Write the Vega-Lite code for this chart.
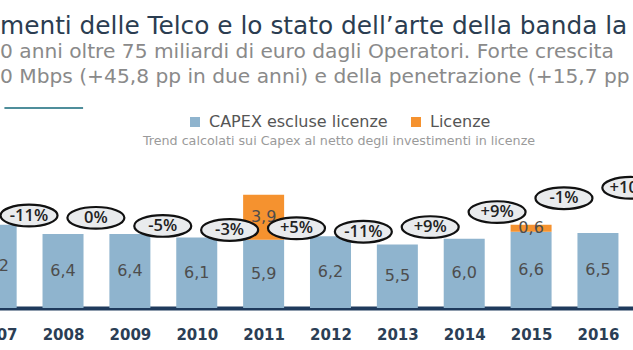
{
  "$schema": "https://vega.github.io/schema/vega-lite/v6.json",
  "width": 673,
  "height": 213,
  "autosize": {"type": "none"},
  "padding": {"left": -40, "top": 95, "right": 0, "bottom": 42},
  "background": "white",
  "config": {
    "view": {"stroke": null},
    "font": "DejaVu Sans",
    "locale": {"number": {"decimal": ",", "thousands": ".", "grouping": [3], "currency": ["", " €"]}}
  },
  "title": {
    "text": "menti delle Telco e lo stato dell’arte della banda la",
    "subtitle": ["0 anni oltre 75 miliardi di euro dagli Operatori. Forte crescita", "0 Mbps (+45,8 pp in due anni) e della penetrazione (+15,7 pp"],
    "anchor": "start",
    "frame": "group",
    "dx": 40,
    "offset": 8,
    "font": "DejaVu Sans",
    "fontSize": 24.8,
    "fontWeight": "normal",
    "color": "#2b3d51",
    "subtitleFont": "DejaVu Sans",
    "subtitleFontSize": 20.2,
    "subtitleColor": "#8a8a8a",
    "subtitleLineHeight": 25,
    "subtitlePadding": 3
  },
  "datasets": {
    "capex": [
      {"year": 2007, "series": "CAPEX escluse licenze", "value": 7.2},
      {"year": 2008, "series": "CAPEX escluse licenze", "value": 6.4},
      {"year": 2009, "series": "CAPEX escluse licenze", "value": 6.4},
      {"year": 2010, "series": "CAPEX escluse licenze", "value": 6.1},
      {"year": 2011, "series": "CAPEX escluse licenze", "value": 5.9},
      {"year": 2011, "series": "Licenze", "value": 3.9},
      {"year": 2012, "series": "CAPEX escluse licenze", "value": 6.2},
      {"year": 2013, "series": "CAPEX escluse licenze", "value": 5.5},
      {"year": 2014, "series": "CAPEX escluse licenze", "value": 6.0},
      {"year": 2015, "series": "CAPEX escluse licenze", "value": 6.6},
      {"year": 2015, "series": "Licenze", "value": 0.6},
      {"year": 2016, "series": "CAPEX escluse licenze", "value": 6.5}
    ],
    "trend": [
      {"year": 2008, "change": "-11%", "level": 8.0},
      {"year": 2009, "change": "0%", "level": 7.8},
      {"year": 2010, "change": "-5%", "level": 7.1},
      {"year": 2011, "change": "-3%", "level": 6.75},
      {"year": 2012, "change": "+5%", "level": 6.9},
      {"year": 2013, "change": "-11%", "level": 6.6},
      {"year": 2014, "change": "+9%", "level": 7.0},
      {"year": 2015, "change": "+9%", "level": 8.3},
      {"year": 2016, "change": "-1%", "level": 9.5},
      {"year": 2017, "change": "+10%", "level": 10.4}
    ]
  },
  "layer": [
    {
      "data": {"name": "capex"},
      "mark": {"type": "bar", "size": 41},
      "encoding": {
        "x": {
          "field": "year",
          "type": "quantitative",
          "scale": {"domain": [2006.534, 2016.4494], "nice": false, "zero": false},
          "axis": {
            "values": [2007, 2007.5, 2008, 2008.5, 2009, 2009.5, 2010, 2010.5, 2011, 2011.5, 2012, 2012.5, 2013, 2013.5, 2014, 2014.5, 2015, 2015.5, 2016, 2016.5],
            "format": "d",
            "labelExpr": "datum.value % 1 == 0 ? datum.label : ''",
            "title": null,
            "grid": false,
            "labelFlush": false,
            "labelOverlap": false,
            "labelFont": "DejaVu Sans",
            "labelFontSize": 15,
            "labelFontWeight": "bold",
            "labelColor": "#2b3e55",
            "labelPadding": 11.5,
            "domainColor": "#1f3a5c",
            "domainWidth": 4,
            "tickColor": "#1f3a5c",
            "tickWidth": 3,
            "tickSize": 8,
            "tickOpacity": {"condition": {"test": "datum.value % 1 == 0", "value": 0}, "value": 1}
          }
        },
        "y": {"field": "value", "type": "quantitative", "stack": "zero", "scale": {"domain": [0, 18.43], "nice": false}, "axis": null},
        "order": {"field": "series", "sort": "ascending"},
        "color": {
          "field": "series",
          "type": "nominal",
          "scale": {"domain": ["CAPEX escluse licenze", "Licenze"], "range": ["#8fb4ce", "#f5922f"]},
          "legend": {
            "orient": "none",
            "legendX": 183,
            "legendY": 19,
            "direction": "horizontal",
            "title": "Trend calcolati sui Capex al netto degli investimenti in licenze",
            "titleOrient": "bottom",
            "titleAnchor": "middle",
            "titleFontSize": 12.7,
            "titleFontWeight": "normal",
            "titleColor": "#9a9a9a",
            "titleFont": "DejaVu Sans",
            "titlePadding": 5,
            "titleLimit": 600,
            "symbolType": "square",
            "symbolSize": 100,
            "symbolStrokeWidth": 0,
            "symbolOpacity": 1,
            "labelFontSize": 16,
            "labelColor": "#555555",
            "labelFont": "DejaVu Sans",
            "labelOffset": 6,
            "labelLimit": 300,
            "columnPadding": 20
          }
        }
      }
    },
    {
      "data": {"name": "capex"},
      "transform": [
        {"stack": "value", "groupby": ["year"], "sort": [{"field": "series", "order": "ascending"}], "as": ["v0", "v1"]},
        {"fold": ["v0", "v1"], "as": ["edge", "pos"]},
        {"aggregate": [{"op": "mean", "field": "pos", "as": "mid"}], "groupby": ["year", "series", "value"]}
      ],
      "mark": {"type": "text", "fontSize": 16, "color": "#4d4d4d", "font": "DejaVu Sans"},
      "encoding": {
        "x": {"field": "year", "type": "quantitative"},
        "y": {"field": "mid", "type": "quantitative"},
        "text": {"field": "value", "type": "quantitative", "format": ".1f"}
      }
    },
    {
      "data": {"name": "trend"},
      "mark": {
        "type": "point",
        "shape": "M -1 0 C -1 -0.21 -0.5523 -0.38 0 -0.38 C 0.5523 -0.38 1 -0.21 1 0 C 1 0.21 0.5523 0.38 0 0.38 C -0.5523 0.38 -1 0.21 -1 0 Z",
        "size": 3249,
        "filled": true,
        "fill": "#e9ebed",
        "stroke": "#111111",
        "strokeWidth": 2.2,
        "opacity": 1,
        "xOffset": -34
      },
      "encoding": {
        "x": {"field": "year", "type": "quantitative"},
        "y": {"field": "level", "type": "quantitative"}
      }
    },
    {
      "data": {"name": "trend"},
      "mark": {"type": "text", "xOffset": -34, "fontSize": 16.5, "fontWeight": 600, "color": "#222222", "font": "Open Sans"},
      "encoding": {
        "x": {"field": "year", "type": "quantitative"},
        "y": {"field": "level", "type": "quantitative"},
        "text": {"field": "change", "type": "nominal"}
      }
    },
    {
      "data": {"values": [{}]},
      "mark": {"type": "rule", "color": "#4f8e9b", "strokeWidth": 2},
      "encoding": {
        "x": {"datum": 2007.1234},
        "x2": {"datum": 2008.3},
        "y": {"datum": 17.3}
      }
    }
  ]
}
